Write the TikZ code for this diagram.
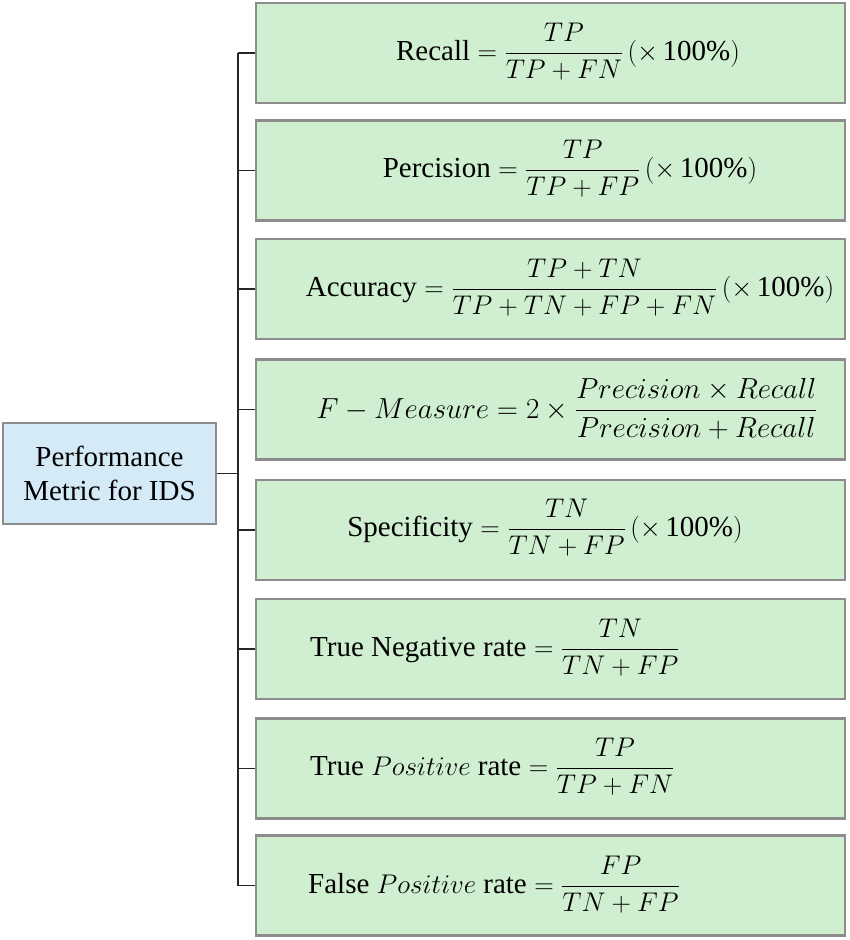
\RequirePackage{fix-cm}
\documentclass[tikz,border=0pt]{standalone}
\usepackage{amsmath}
\usepackage{fontspec}
\setmainfont{Liberation Serif}
\newfontfamily\rootfont{Liberation Serif}
\DeclareMathSizes{29}{27}{19}{14}
\DeclareMathSizes{31}{29}{20}{15}
\definecolor{boxgreen}{HTML}{D0EED0}
\definecolor{boxblue}{HTML}{D5EAF7}
\definecolor{boxedge}{HTML}{8C8C8C}
\begin{document}
\begin{tikzpicture}[x=1pt,y=-1pt,
  metricbox/.style={draw=boxedge,line width=2.2pt,fill=boxgreen,minimum width=589pt,minimum height=100pt,inner sep=0pt},
  rootbox/.style={draw=boxedge,line width=2.2pt,fill=boxblue,minimum width=213pt,minimum height=101pt,inner sep=0pt,align=center,font=\rootfont\fontsize{29}{34}\selectfont},
  formula/.style={inner sep=0pt,font=\fontsize{29}{34}\selectfont},
  conn/.style={draw=black!85,line width=1.5pt}]
\useasboundingbox (0,0) rectangle (850,940);
\node[rootbox] (root) at (109.5,473.5) {Performance\\Metric for IDS};
\node[metricbox] (b1) at (550.5,53) {};
\node[metricbox] (b2) at (550.5,170.5) {};
\node[metricbox] (b3) at (550.5,289) {};
\node[metricbox] (b4) at (550.5,409.5) {};
\node[metricbox] (b5) at (550.5,530) {};
\node[metricbox] (b6) at (550.5,649) {};
\node[metricbox] (b7) at (550.5,768.5) {};
\node[metricbox] (b8) at (550.5,885.5) {};
\coordinate (trunk) at (238,473.5);
\draw[conn] (root.east) -- (trunk);
\draw[conn] (trunk |- b1.west) -- (trunk |- b8.west);
\foreach \i in {1,...,8} {\draw[conn] (trunk |- b\i.west) -- (b\i.west);}
\node[formula] (f1) at (568,52) {$\text{Recall} = \dfrac{TP}{TP+FN}\,(\times\,\text{100\%})$};
\node[formula] (f2) at (570,169) {$\text{Percision} = \dfrac{TP}{TP+FP}\,(\times\,\text{100\%})$};
\node[formula] (f3) at (570,288) {$\text{Accuracy} = \dfrac{TP+TN}{TP+TN+FP+FN}\,(\times\,\text{100\%})$};
\node[formula,font=\fontsize{31}{34}\selectfont] (f4) at (567,409) {$F-Measure = 2\times\dfrac{Precision\times Recall}{Precision+Recall}$};
\node[formula] (f5) at (545,528) {$\text{Specificity} = \dfrac{TN}{TN+FP}\,(\times\,\text{100\%})$};
\node[formula,anchor=west] (f6) at (310,648) {$\text{True Negative rate} = \dfrac{TN}{TN+FP}$};
\node[formula,anchor=west] (f7) at (310,767) {$\text{True } Positive\text{ rate} = \dfrac{TP}{TP+FN}$};
\node[formula,anchor=west] (f8) at (308,885) {$\text{False } Positive\text{ rate} = \dfrac{FP}{TN+FP}$};
\end{tikzpicture}
\end{document}
